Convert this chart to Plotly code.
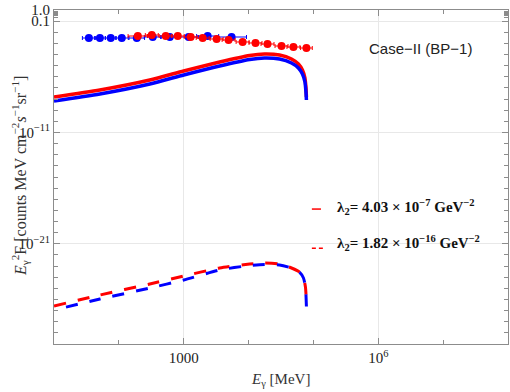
import plotly.graph_objects as go

# ---------------- data ----------------
# Solid curves, lambda2 = 4.03e-7 GeV^-2
E_solid = [10, 51, 300, 1000, 3580, 10400, 17600, 30000, 45900, 58700, 67700, 74000, 76700, 78000]
F_solid_red = [1.53e-8, 6.52e-8, 5.15e-7, 3.32e-6, 2.13e-5, 8.19e-5, 1.12e-4, 9.08e-5,
               3.97e-5, 1.41e-5, 4.08e-6, 7.80e-7, 9.86e-8, 1.53e-8]
F_solid_blue = [6.70e-9, 2.85e-8, 2.25e-7, 1.45e-6, 9.33e-6, 3.58e-5, 4.89e-5, 3.97e-5,
                1.73e-5, 6.17e-6, 1.78e-6, 3.41e-7, 4.31e-8, 8.24e-9]

# Dashed curves, lambda2 = 1.82e-16 GeV^-2
E_dash = [10, 51, 300, 1000, 3580, 10400, 17600, 30000, 45900, 60900, 70200, 75300, 78000]
F_dash_red = [2.59e-27, 2.52e-26, 2.45e-25, 1.28e-24, 6.70e-24, 1.53e-23, 1.88e-23, 1.53e-23,
              6.70e-24, 2.93e-24, 8.47e-25, 1.32e-25, 4.81e-27]
F_dash_blue = [1.13e-27, 1.10e-26, 1.07e-25, 5.60e-25, 4.43e-24, 1.12e-23, 1.38e-23, 1.24e-23,
               6.70e-24, 2.93e-24, 8.47e-25, 1.32e-25, 2.10e-27]

# Data points
E_blue_pts = [34.5, 51, 75, 111, 189, 333, 610, 1190, 2340, 5470]
F_blue_pts = [3.05e-3, 3.05e-3, 3.05e-3, 3.05e-3, 3.05e-3, 3.76e-3, 3.76e-3, 3.76e-3, 4.62e-3, 3.76e-3]
dex_blue_pts = [0.10, 0.085, 0.085, 0.10, 0.12, 0.13, 0.14, 0.15, 0.17, 0.23]

E_red_pts = [196, 322, 528, 810, 1280, 1960, 3220, 4920, 8090, 12800, 19600, 32200, 49200, 78000]
F_red_pts = [4.62e-3, 5.68e-3, 4.62e-3, 4.62e-3, 3.76e-3, 3.05e-3, 2.48e-3, 2.02e-3,
             1.34e-3, 1.09e-3, 8.83e-4, 5.83e-4, 4.75e-4, 3.86e-4]
dex_red_pts = [0.15, 0.10, 0.10, 0.10, 0.10, 0.10, 0.10, 0.10, 0.10, 0.10, 0.10, 0.10, 0.10, 0.09]

x_tickvals = [1000, 1e6]
x_ticktext = ["1000", "10<sup>6</sup>"]
x_minor = [10, 100, 1e4, 1e5, 1e7, 1e8]

y_tickvals = [1.0, 0.1, 1e-11, 1e-21]
y_ticktext = ["1.0", "0.1", "10<sup>\u221211</sup>", "10<sup>\u221221</sup>"]
y_minor = [0.2, 0.3, 0.4, 0.5, 0.6, 0.7, 0.8, 0.9] + [10.0 ** (-k) for k in range(2, 31) if k not in (11, 21)]

legend_labels = ["<b>\u03bb<sub>2</sub>= 4.03 \u00d7 10<sup>\u22127</sup> GeV<sup>\u22122</sup></b>",
                 "<b>\u03bb<sub>2</sub>= 1.82 \u00d7 10<sup>\u221216</sup> GeV<sup>\u22122</sup></b>"]

RED = "rgb(255,0,0)"
BLUE = "rgb(0,0,255)"

fig = go.Figure()

# dashed curves
fig.add_trace(go.Scatter(x=E_dash, y=F_dash_red, mode="lines",
                         line=dict(color=RED, width=3, dash="12px,12px", shape="spline", smoothing=0.6),
                         showlegend=False, hoverinfo="skip"))
fig.add_trace(go.Scatter(x=E_dash, y=F_dash_blue, mode="lines",
                         line=dict(color=BLUE, width=3, dash="0px,12px,12px,0px", shape="spline", smoothing=0.6),
                         showlegend=False, hoverinfo="skip"))
# solid curves
fig.add_trace(go.Scatter(x=E_solid, y=F_solid_red, mode="lines",
                         line=dict(color=RED, width=3.5, shape="spline", smoothing=0.6),
                         showlegend=False, hoverinfo="skip"))
fig.add_trace(go.Scatter(x=E_solid, y=F_solid_blue, mode="lines",
                         line=dict(color=BLUE, width=3.5, shape="spline", smoothing=0.6),
                         showlegend=False, hoverinfo="skip"))

# data points
def xerr(E, dex):
    plus = [e * (10 ** d - 1) for e, d in zip(E, dex)]
    minus = [e * (1 - 10 ** (-d)) for e, d in zip(E, dex)]
    return plus, minus

bp, bm = xerr(E_blue_pts, dex_blue_pts)
fig.add_trace(go.Scatter(x=E_blue_pts, y=F_blue_pts, mode="markers",
                         marker=dict(color=BLUE, size=8),
                         error_x=dict(type="data", array=bp, arrayminus=bm, color=BLUE, thickness=1, width=2),
                         showlegend=False))
rp, rm = xerr(E_red_pts, dex_red_pts)
fig.add_trace(go.Scatter(x=E_red_pts, y=F_red_pts, mode="markers",
                         marker=dict(color=RED, size=8),
                         error_x=dict(type="data", array=rp, arrayminus=rm, color=RED, thickness=1, width=2),
                         showlegend=False))

FRAME = "#8c8c8c"
GRID = "#e8e8e8"
TICKFONT = dict(family="Liberation Serif", size=15, color="#222")

fig.update_xaxes(type="log", range=[1, 8], automargin=False,
                 tickmode="array", tickvals=x_tickvals, ticktext=x_ticktext,
                 ticks="inside", ticklen=6, tickcolor=FRAME, tickwidth=1,
                 minor=dict(tickmode="array", tickvals=x_minor, ticks="inside", ticklen=4,
                            tickcolor=FRAME, showgrid=False),
                 showgrid=True, gridcolor=GRID, gridwidth=1,
                 showline=True, linecolor=FRAME, linewidth=1, mirror="ticks",
                 zeroline=False, tickfont=TICKFONT, ticklabeloverflow="allow")
fig.update_yaxes(type="log", range=[-30, 0], automargin=False,
                 tickmode="array", tickvals=y_tickvals, ticktext=y_ticktext,
                 ticks="inside", ticklen=6, tickcolor=FRAME, tickwidth=1,
                 minor=dict(tickmode="array", tickvals=y_minor, ticks="inside", ticklen=4,
                            tickcolor=FRAME, showgrid=False),
                 showgrid=True, gridcolor=GRID, gridwidth=1,
                 showline=True, linecolor=FRAME, linewidth=1, mirror="ticks",
                 zeroline=False, tickfont=TICKFONT, ticklabeloverflow="allow")

annotations = [
    dict(text="Case\u2212II (BP\u22121)", x=0.808, y=0.886, xref="paper", yref="paper",
         showarrow=False, xanchor="center", yanchor="middle",
         font=dict(family="Liberation Sans", size=15, color="#222")),
    dict(text=legend_labels[0], x=0.619, y=0.410, xref="paper", yref="paper",
         showarrow=False, xanchor="left", yanchor="middle",
         font=dict(family="Liberation Serif", size=15, color="#111")),
    dict(text=legend_labels[1], x=0.619, y=0.302, xref="paper", yref="paper",
         showarrow=False, xanchor="left", yanchor="middle",
         font=dict(family="Liberation Serif", size=15, color="#111")),
    dict(text="<i>E</i><sub>\u03b3</sub> [MeV]", x=0.498, y=-0.108, xref="paper", yref="paper",
         showarrow=False, xanchor="center", yanchor="middle",
         font=dict(family="Liberation Serif", size=15, color="#333")),
    dict(text="<i>E</i><sub>\u03b3</sub><sup>2</sup>F [counts MeV cm<sup>\u22122</sup><i>s</i><sup>\u22121</sup>sr<sup>\u22121</sup>]",
         x=-0.0749, y=0.503, xref="paper", yref="paper", textangle=-90,
         showarrow=False, xanchor="center", yanchor="middle",
         font=dict(family="Liberation Serif", size=16, color="#333")),
]

shapes = [
    dict(type="line", xref="paper", yref="paper", x0=0.568, x1=0.588, y0=0.404, y1=0.404,
         line=dict(color=RED, width=1.5)),
    dict(type="line", xref="paper", yref="paper", x0=0.568, x1=0.593, y0=0.287, y1=0.287,
         line=dict(color=RED, width=1.5, dash="4px,3px")),
]

fig.update_layout(width=510, height=392,
                  margin=dict(l=54, r=2, t=10, b=48, autoexpand=False),
                  paper_bgcolor="white", plot_bgcolor="white",
                  annotations=annotations, shapes=shapes,
                  showlegend=False, hovermode=False)

# remove the default page margin so the 510x392 figure fills the window exactly
fig.write_html("out.html", config={"displayModeBar": False, "staticPlot": True},
               post_script="document.body.style.margin='0';")
